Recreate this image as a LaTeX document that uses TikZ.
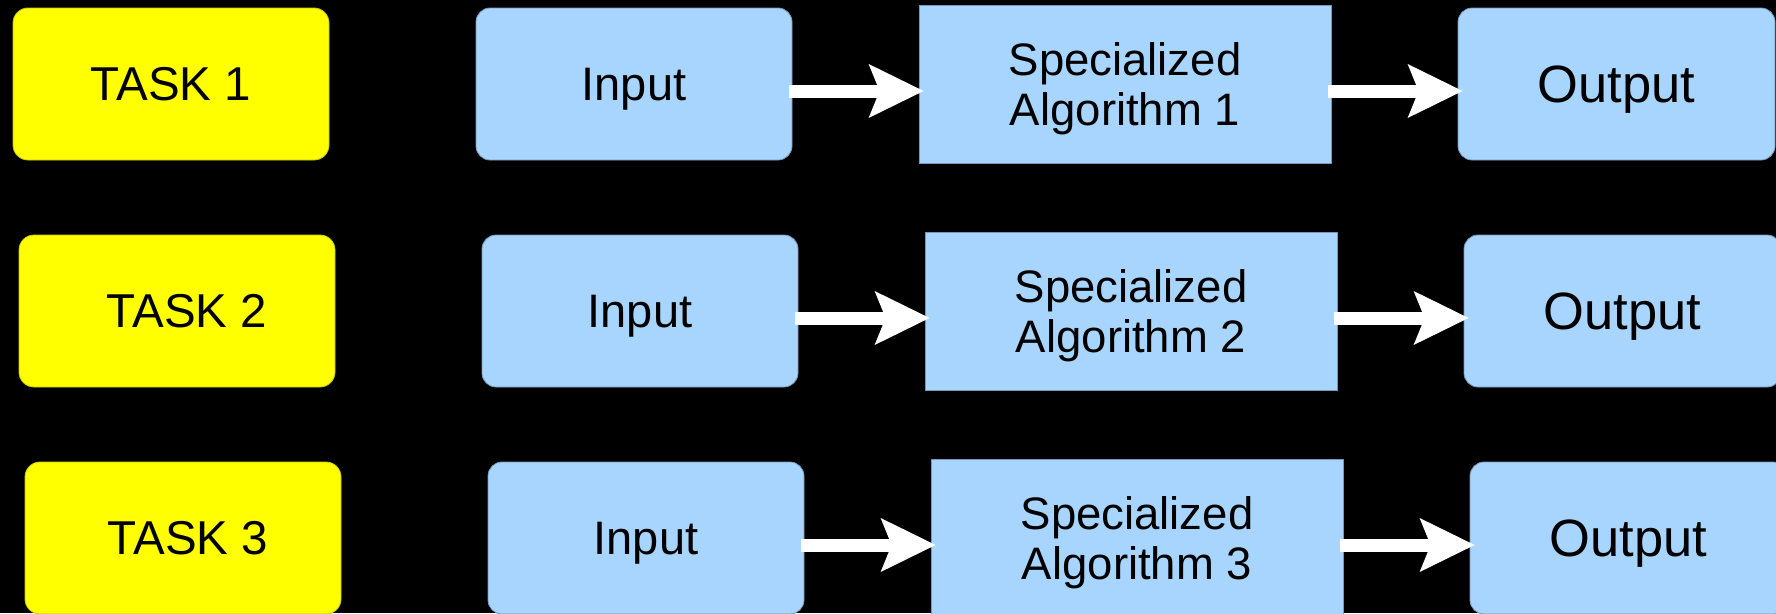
\documentclass[tikz,border=0pt]{standalone}
\usepackage{fontspec}
\setmainfont{Liberation Sans}
\usetikzlibrary{arrows.meta}

\definecolor{taskyellow}{RGB}{255,255,0}
\definecolor{taskedge}{RGB}{200,200,0}
\definecolor{stageblue}{RGB}{168,213,254}
\definecolor{stageedge}{RGB}{120,150,185}

\tikzset{
  box/.style={rectangle, inner sep=0pt, line width=0.8pt, text depth=0pt},
  taskbox/.style={box, rounded corners=15pt, fill=taskyellow, draw=taskedge,
    minimum width=316pt, minimum height=152pt,
    font=\fontsize{47.5}{50}\selectfont},
  inbox/.style={box, rounded corners=14pt, fill=stageblue, draw=stageedge,
    minimum width=316pt, minimum height=152pt,
    font=\fontsize{47}{50}\selectfont},
  algbox/.style={box, fill=stageblue, draw=stageedge,
    minimum width=412pt, minimum height=158pt, align=center,
    font=\fontsize{45.5}{50}\selectfont},
  outbox/.style={box, rounded corners=14pt, fill=stageblue, draw=stageedge,
    minimum width=317pt, minimum height=152pt,
    font=\fontsize{52.5}{50}\selectfont},
  flow/.style={draw=white, line width=13pt,
    -{Stealth[length=55pt, width=54pt, inset=11pt, line width=0pt]},
    shorten <=-3pt, shorten >=-5pt}
}

\begin{document}
\begin{tikzpicture}[x=1pt, y=-1pt]
  \useasboundingbox (0,0) rectangle (1776,613);
  \fill[black] (0,0) rectangle (1776,613);
  \clip (0,0) rectangle (1776,613);

  % one row per task: each row sits 6pt further right and 227pt lower
  \foreach \r/\pad in {1/0pt, 2/20pt, 3/10pt} {
    \pgfmathsetmacro{\dx}{6*(\r-1)}
    \pgfmathsetmacro{\dy}{227*(\r-1)}
    \node[taskbox] (task\r) at (171+\dx, 84+\dy) {\hspace*{\pad}TASK \r};
    \node[inbox]   (in\r)   at (634+\dx, 84+\dy) {Input};
    \node[algbox]  (alg\r)  at (1125+\dx, 84+\dy) {Specialized\\Algorithm \r};
    \node[outbox]  (out\r)  at (1616.5+\dx, 84+\dy) {Output};
    \draw[flow] ([yshift=-7pt]in\r.east) -- ([yshift=-7pt]alg\r.west);
    \draw[flow] ([yshift=-7pt]alg\r.east) -- ([yshift=-7pt]out\r.west);
  }
\end{tikzpicture}
\end{document}
